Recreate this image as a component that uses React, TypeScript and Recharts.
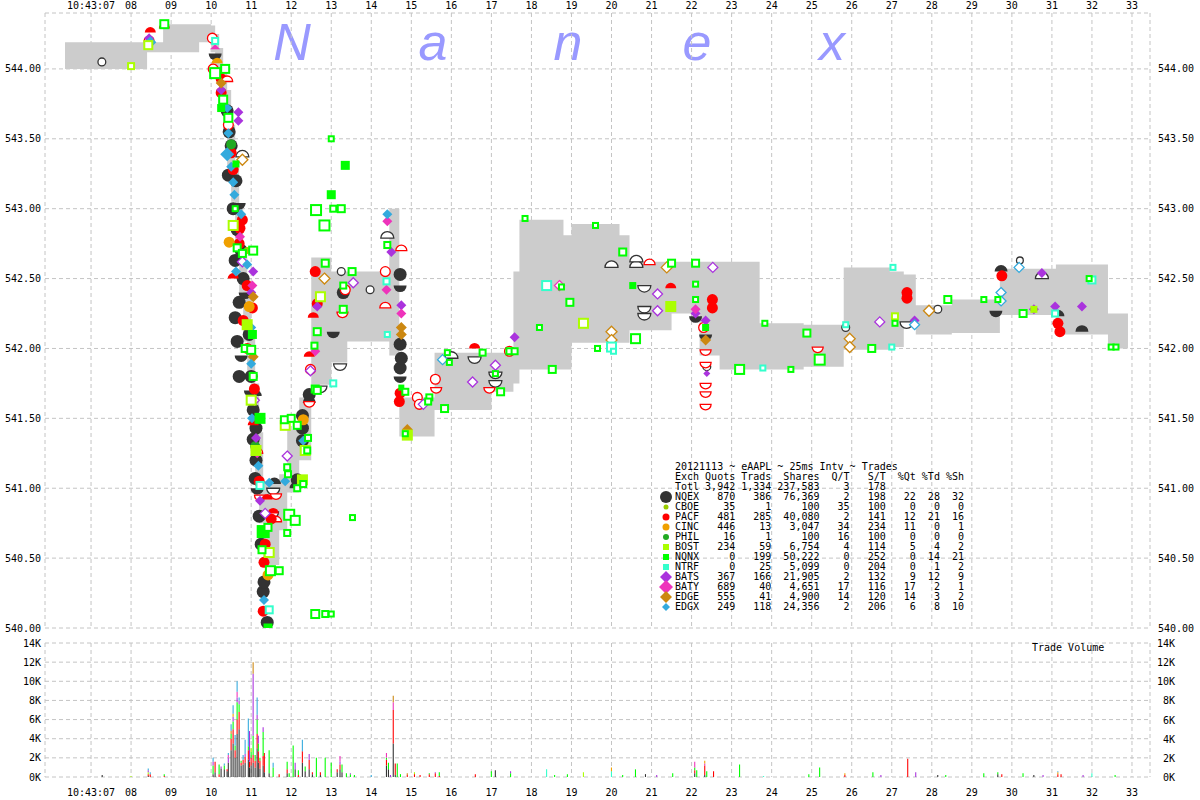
import React from "react";
import {
  ComposedChart,
  Area,
  Scatter,
  Bar,
  XAxis,
  YAxis,
  CartesianGrid,
} from "recharts";

const MONO = '"DejaVu Sans Mono", monospace';
const GRID = "#c4c4c4";

// seconds after 10:43:00
const secTicks = [7, 8, 9, 10, 11, 12, 13, 14, 15, 16, 17, 18, 19, 20, 21, 22, 23, 24, 25, 26, 27, 28, 29, 30, 31, 32, 33];
const priceTicks = [540, 540.5, 541, 541.5, 542, 542.5, 543, 543.5, 544];
const volTicks = [0, 2000, 4000, 6000, 8000, 10000, 12000, 14000];
const xDomain = [5.85, 33.45];

// gray bid/ask band, step after
const bandT = [6.35, 8.4, 8.8, 9.7, 10.0, 10.1, 10.2, 10.3, 10.4, 10.5, 10.6, 10.7, 10.8, 10.9, 11.0, 11.1, 11.2, 11.3, 11.7, 11.9, 12.2, 12.5, 13.0, 13.4, 14.45, 14.7, 15.58, 17.0, 17.55, 17.7, 18.8, 19.0, 20.2, 20.45, 21.5, 22.2, 22.7, 23.7, 24.8, 25.8, 26.95, 27.3, 27.6, 28.5, 29.7, 31.1, 32.4, 32.9];
const bandLo = [544.0, 544.12, 544.12, 544.19, 544.12, 543.95, 543.75, 543.55, 543.3, 543.05, 542.75, 542.4, 542.05, 541.8, 541.45, 541.1, 540.75, 540.45, 540.7, 540.97, 541.2, 541.74, 541.9, 542.05, 541.95, 541.37, 541.56, 541.69, 541.75, 541.85, 541.85, 542.04, 542.04, 542.13, 542.25, 541.95, 541.85, 541.85, 541.87, 541.99, 542.01, 542.18, 542.1, 542.11, 542.24, 542.1, 542.0, 542.0];
const bandHi = [544.19, 544.19, 544.32, 544.32, 544.31, 544.25, 544.15, 544.0, 543.85, 543.6, 543.3, 543.0, 542.7, 542.4, 542.1, 541.75, 541.4, 541.05, 541.1, 541.42, 541.65, 542.65, 542.55, 542.55, 543.0, 541.65, 541.97, 541.97, 542.55, 542.92, 542.81, 542.89, 542.81, 542.62, 542.62, 542.62, 542.62, 542.18, 542.17, 542.58, 542.55, 542.53, 542.31, 542.35, 542.57, 542.6, 542.25, 542.25];

// [time, price, style, size?]  f=trade h=hollow u/U=bid half d/D=ask half
const nqexPts = [
  [7.27, 544.05, "h", 9], [10.1, 544.11, "d"], [10.4, 543.7, "f"], [10.43, 543.24, "f"], [10.62, 543.2, "f"],
  [10.7, 543.04, "d"], [10.78, 543.37, "U"], [10.6, 542.63, "f"], [10.7, 542.33, "f"], [10.6, 542.22, "f"],
  [10.65, 542.05, "f"], [10.75, 541.95, "d"], [10.7, 541.8, "f"], [11.05, 541.56, "f"], [11.1, 541.66, "u"],
  [11.12, 541.43, "f"], [11.1, 541.07, "f"], [11.3, 540.26, "f"], [11.32, 540.33, "f"], [11.4, 540.04, "f"],
  [10.45, 543.55, "f"], [10.5, 543.45, "f"], [10.55, 543.0, "f"], [10.65, 542.85, "f"], [10.75, 542.7, "f"],
  [10.8, 542.5, "f"], [10.85, 542.4, "d"], [10.95, 542.1, "f"], [11.0, 541.8, "f"], [10.98, 541.7, "d"],
  [11.05, 541.35, "f"], [11.12, 541.2, "f"], [11.15, 541.0, "d"], [11.2, 540.8, "f"], [11.25, 540.6, "f"],
  [11.58, 541.03, "u"], [11.52, 540.83, "D"], [11.55, 541.0, "D"], [12.12, 541.0, "u"], [12.15, 541.06, "f"],
  [12.28, 541.43, "f"], [12.28, 541.34, "f"], [12.45, 541.61, "u"], [12.45, 541.67, "f"], [12.28, 541.52, "f"],
  [12.73, 541.73, "D"], [13.22, 541.89, "D"], [13.3, 542.4, "f"], [13.25, 542.55, "h", 9], [13.05, 542.12, "d"],
  [13.97, 542.42, "h", 9], [14.4, 542.79, "U"], [14.72, 542.53, "f"], [14.72, 542.45, "d"], [14.72, 542.03, "f"],
  [14.72, 541.86, "f"], [14.72, 541.8, "d"], [14.75, 541.93, "f"], [16.0, 541.93, "U"], [16.58, 541.94, "D"],
  [17.1, 541.77, "D"], [17.1, 541.83, "D"], [20.0, 542.58, "U"], [20.62, 542.58, "U"], [20.62, 542.62, "U"],
  [20.82, 542.45, "D"], [20.82, 542.3, "D"], [20.82, 542.25, "D"], [22.1, 542.23, "d"], [22.35, 542.1, "d"],
  [22.38, 541.87, "h", 9], [25.85, 542.15, "h", 9], [27.37, 542.19, "D"], [28.15, 542.28, "h", 9],
  [29.6, 542.27, "d"], [29.73, 542.55, "u"], [30.75, 542.5, "U"], [31.15, 542.23, "u"], [31.75, 542.12, "u"],
  [30.2, 542.63, "h", 8],
];
const pacfPts = [
  [8.48, 544.26, "u"], [8.45, 544.2, "h"], [8.83, 544.29, "u"], [10.03, 544.22, "h"], [10.05, 544.0, "h"],
  [10.25, 543.93, "f"], [10.4, 543.91, "U"], [10.25, 543.83, "f"], [10.43, 543.6, "h"], [10.55, 543.28, "f"],
  [10.78, 542.92, "f"], [10.72, 542.86, "f"], [10.8, 542.2, "f"], [11.03, 542.29, "f"], [10.9, 542.45, "f"],
  [10.5, 543.4, "f"], [10.7, 542.75, "f"], [10.9, 542.0, "f"], [11.05, 541.45, "u"], [11.2, 541.05, "f"],
  [10.55, 542.5, "u"], [11.08, 541.71, "f"], [11.15, 541.25, "U"], [11.22, 540.95, "D"], [11.4, 540.92, "u"],
  [11.62, 540.96, "D"], [11.62, 540.76, "U"], [11.5, 540.78, "f"], [11.32, 540.47, "f"], [11.3, 540.12, "f"],
  [11.35, 540.6, "f"], [11.55, 540.82, "u"], [12.45, 541.62, "D"], [12.48, 541.85, "h"], [12.45, 541.94, "u"],
  [12.6, 542.55, "f"], [12.65, 542.32, "f"], [12.55, 542.22, "u"], [13.28, 542.26, "D"], [13.35, 542.42, "h"],
  [14.35, 542.55, "h"], [14.35, 542.29, "U"], [14.75, 542.7, "U"], [14.7, 541.62, "f"], [14.72, 541.68, "f"],
  [15.15, 541.65, "h"], [15.2, 541.6, "h"], [15.6, 541.78, "h"], [15.62, 541.72, "D"], [16.58, 542.0, "u"],
  [16.95, 541.72, "D"], [17.45, 541.98, "h"], [20.95, 542.6, "U"], [21.48, 542.43, "u"], [22.52, 542.35, "f"],
  [22.52, 542.29, "f"], [22.3, 542.15, "h"], [22.35, 541.99, "D"], [22.35, 541.9, "D"], [22.35, 541.75, "D"],
  [22.35, 541.69, "D"], [22.35, 541.6, "D"], [25.15, 542.01, "D"], [27.38, 542.4, "f"], [27.38, 542.36, "f"],
  [29.75, 542.52, "f"], [31.15, 542.18, "f"], [31.2, 542.12, "f"],
];
const cincPts = [[10.15, 544.04, "u"], [10.45, 542.76, "f"], [10.95, 542.3, "f"], [12.3, 541.49, "f"], [11.42, 540.38, "f"]];
const cboePts = [[10.9, 542.7, "f"]];
const philPts = [[10.5, 543.46, "f"], [11.1, 541.3, "f"]];
const bostPts = [
  [8.0, 544.02, "h", 8], [8.43, 544.17, "h", 10], [10.55, 542.88, "h"], [10.9, 542.17, "f"], [11.0, 541.63, "h"],
  [11.12, 541.27, "f"], [11.45, 540.54, "h"], [11.85, 541.45, "h"], [12.35, 541.27, "h"], [12.28, 541.06, "f"],
  [12.73, 542.37, "h"], [14.9, 541.38, "f"], [19.3, 542.18, "h"], [21.48, 542.3, "f"], [27.08, 542.23, "h", 8],
  [30.55, 542.28, "f", 7],
];
const nqnxPts = [
  [8.83, 544.32, "h", 10], [10.1, 543.97, "h", 12], [10.35, 544.0, "h", 10], [10.3, 543.78, "h", 10], [10.25, 543.72, "f", 8],
  [10.43, 543.65, "h", 10], [10.62, 543.32, "f", 7], [10.6, 543.0, "h", 7], [10.65, 542.72, "h", 9], [10.78, 542.68, "h", 9],
  [11.05, 542.7, "h", 10], [11.03, 542.1, "f", 9], [10.85, 542.0, "h", 9], [11.0, 541.99, "h", 10], [11.05, 541.8, "h", 9],
  [11.22, 541.5, "f", 11], [11.3, 540.69, "f", 13], [11.42, 540.72, "h", 9], [11.27, 540.56, "h", 9], [11.48, 540.41, "h", 11],
  [11.7, 540.41, "h", 9], [11.42, 540.0, "f", 9], [11.83, 541.49, "h", 9], [12.0, 541.5, "h", 9], [12.15, 541.45, "h", 9],
  [11.9, 541.15, "h", 8], [11.92, 541.1, "h", 8], [11.95, 540.81, "h", 12], [12.1, 540.77, "h", 11], [11.9, 540.68, "h", 8],
  [12.15, 541.0, "h", 8], [12.3, 541.03, "h", 8], [12.4, 541.27, "h", 8], [12.42, 541.36, "h", 8], [12.6, 541.71, "h", 9],
  [12.65, 541.7, "h", 9], [12.58, 542.02, "h", 8], [12.65, 542.12, "h", 9], [12.85, 542.61, "h", 9], [12.62, 542.99, "h", 12],
  [12.83, 542.88, "h", 12], [13.25, 543.0, "h", 9], [13.05, 543.0, "h", 8], [13.0, 543.1, "f", 9], [13.35, 543.31, "f", 9],
  [13.0, 543.5, "h", 7], [13.52, 542.55, "h", 9], [13.3, 542.28, "h", 9], [13.3, 542.45, "h", 8], [12.6, 540.1, "h", 10],
  [12.85, 540.1, "h", 8], [13.0, 540.1, "h", 7], [13.53, 540.79, "h", 7], [14.4, 542.74, "h", 8], [14.75, 541.72, "f", 6],
  [14.85, 541.69, "h", 8], [14.85, 541.39, "h", 7], [15.45, 541.65, "h", 8], [15.42, 541.62, "h", 8], [15.83, 541.57, "h", 9],
  [15.9, 541.97, "h", 7], [15.95, 541.9, "h", 7], [16.78, 541.97, "h", 8], [17.1, 541.82, "h", 7], [17.23, 541.69, "h", 9],
  [17.45, 541.98, "h", 8], [17.58, 541.98, "h", 8], [17.84, 542.93, "h", 7], [18.2, 542.15, "h", 7], [18.52, 541.85, "h", 9],
  [18.75, 542.44, "h", 7], [18.96, 542.33, "h", 9], [19.6, 542.88, "h", 7], [19.65, 542.0, "h", 7], [20.28, 542.69, "h", 9],
  [20.53, 542.45, "f", 7], [20.6, 542.07, "h", 11], [21.5, 542.61, "h", 9], [22.1, 542.61, "h", 9], [22.1, 542.46, "h", 7],
  [22.1, 542.35, "h", 7], [22.35, 542.15, "f", 7], [23.2, 541.85, "h", 11], [23.83, 542.18, "h", 7], [24.48, 541.85, "h", 7],
  [24.88, 542.11, "h", 9], [25.2, 541.92, "h", 12], [26.5, 542.0, "h", 9], [27.08, 542.18, "h", 7], [28.4, 542.35, "h", 9],
  [29.3, 542.35, "h", 7], [29.65, 542.35, "h", 7], [30.28, 542.25, "h", 9], [31.93, 542.5, "h", 7], [32.48, 542.01, "h", 7],
  [32.6, 542.01, "h", 7],
];
const ntrfPts = [
  [10.1, 544.2, "h", 8], [11.22, 541.02, "h", 9], [11.45, 540.13, "h", 9], [13.05, 541.75, "h", 8], [14.38, 542.48, "h", 8],
  [14.4, 542.1, "h", 7], [18.38, 542.45, "h", 11], [20.0, 542.01, "h", 11], [20.05, 541.98, "h", 7], [23.78, 541.86, "h", 7],
  [25.85, 542.17, "h", 7], [27.0, 542.01, "h", 7], [27.03, 542.58, "h", 7], [31.08, 542.25, "h", 8], [32.0, 542.49, "h", 9],
];
const batsPts = [
  [8.45, 544.22, "f"], [10.25, 543.85, "f"], [10.68, 543.69, "f"], [10.68, 543.63, "f"], [11.05, 542.55, "f"],
  [10.78, 542.62, "h"], [11.0, 542.4, "f"], [11.08, 541.63, "h"], [11.12, 541.36, "f"], [11.22, 540.91, "f"],
  [11.35, 540.82, "h"], [11.9, 541.23, "h"], [12.48, 541.84, "h"], [12.65, 542.3, "f"], [13.55, 542.47, "h"],
  [14.5, 542.69, "f"], [14.75, 542.31, "f"], [15.3, 541.6, "h"], [16.53, 541.76, "h"], [17.1, 541.88, "h"],
  [17.58, 542.08, "f"], [21.15, 542.39, "h"], [21.15, 542.27, "h"], [22.53, 542.58, "h"], [22.1, 542.25, "f"],
  [22.35, 542.2, "f"], [22.38, 541.82, "f", 7], [26.7, 542.19, "h"], [27.57, 542.2, "f"], [30.55, 542.28, "f"],
  [30.75, 542.54, "f"], [31.08, 542.3, "f"], [31.75, 542.3, "f"],
];
const batyPts = [
  [10.1, 544.14, "u"], [10.72, 542.8, "f"], [11.03, 542.45, "f"], [11.15, 541.25, "f"], [12.6, 541.98, "f"],
  [14.4, 542.91, "f"], [14.38, 542.42, "f"], [14.75, 542.25, "f"], [18.7, 542.45, "h"], [22.1, 542.28, "f"],
];
const edgePts = [
  [10.25, 543.9, "f"], [10.78, 543.35, "h"], [11.05, 542.37, "f"], [11.05, 541.94, "f"], [12.83, 542.5, "h"],
  [14.75, 542.15, "f"], [14.75, 542.1, "f"], [14.9, 541.42, "f"], [20.0, 542.12, "h"], [20.0, 542.06, "h"],
  [21.38, 542.58, "h"], [22.35, 542.06, "f"], [25.95, 542.07, "h"], [25.95, 542.01, "h"], [27.93, 542.27, "h"],
];
const edgxPts = [
  [8.48, 544.19, "f", 12], [10.4, 543.72, "f"], [10.43, 543.54, "f"], [10.4, 543.39, "f", 14], [10.55, 543.19, "f"],
  [10.58, 543.1, "f"], [10.75, 542.96, "f"], [10.62, 542.55, "f"], [11.0, 542.15, "f"], [11.0, 541.89, "f"],
  [11.02, 541.5, "f"], [11.18, 541.16, "f"], [11.45, 541.04, "f"], [11.85, 541.05, "f"], [12.3, 541.34, "f"],
  [10.5, 543.3, "f"], [10.9, 542.6, "f"],
  [11.32, 540.2, "f"], [14.4, 542.96, "f"], [15.78, 541.92, "h"], [27.57, 542.17, "h"], [29.73, 542.4, "h"],
  [29.73, 542.34, "h"], [30.18, 542.58, "h"],
];

// trade volume per 25ms bucket (shares)
const volBuckets: any[] = [
  { t: 7.28, nqex: 200 }, { t: 8.0, bost: 100 },
  { t: 8.43, nqex: 100, pacf: 200, bost: 200, bats: 200, edgx: 200 }, { t: 8.48, pacf: 300, edgx: 200 },
  { t: 8.83, pacf: 100, nqnx: 200 },
  { t: 10.05, nqex: 300, nqnx: 900, bats: 400, edgx: 400 }, { t: 10.1, nqex: 500, pacf: 1100 },
  { t: 10.2, pacf: 300, nqnx: 1000 }, { t: 10.25, nqex: 900, bats: 200 },
  { t: 10.33, nqex: 800, nqnx: 400, edgx: 200 }, { t: 10.4, nqex: 600, pacf: 200 },
  { t: 10.43, nqex: 1500, bats: 500, baty: 300, edgx: 200 },
  { t: 10.5, nqex: 2800, pacf: 1200, nqnx: 500, edge: 300, edgx: 700 },
  { t: 10.55, nqex: 3500, pacf: 1500, nqnx: 800, bats: 500, cinc: 300, edgx: 900 },
  { t: 10.6, nqex: 2000, pacf: 800, nqnx: 500, edgx: 1100 },
  { t: 10.65, nqex: 4500, pacf: 1500, nqnx: 1800, bats: 500, baty: 600, edgx: 1100 },
  { t: 10.7, nqex: 5000, pacf: 1800, nqnx: 800, bats: 400, edgx: 300 },
  { t: 10.75, nqex: 1200, pacf: 300, nqnx: 200 }, { t: 10.8, nqex: 1300, pacf: 500, edgx: 500 },
  { t: 10.85, nqex: 1500, pacf: 600, bats: 300, edgx: 1500 },
  { t: 10.93, nqex: 1800, pacf: 1000, nqnx: 400, edgx: 2900 }, { t: 10.96, nqex: 1000, pacf: 600, bats: 3200 },
  { t: 11.0, nqex: 1200, pacf: 800, nqnx: 600, bost: 400 },
  { t: 11.05, nqex: 1500, pacf: 800, nqnx: 2000, bats: 6500, edge: 1200 },
  { t: 11.1, nqex: 1000, pacf: 700, nqnx: 600 },
  { t: 11.15, nqex: 3000, pacf: 1500, nqnx: 1500, bats: 500, edgx: 1800 },
  { t: 11.18, nqex: 1500, pacf: 1200, nqnx: 800, bats: 800 }, { t: 11.22, nqex: 900, pacf: 800, nqnx: 300 },
  { t: 11.3, nqex: 1200, pacf: 1000, nqnx: 2500, bats: 500 }, { t: 11.33, nqex: 500, pacf: 2000 },
  { t: 11.45, nqex: 400, nqnx: 2400 }, { t: 11.55, nqnx: 1000, edgx: 500 }, { t: 11.7, pacf: 300 },
  { t: 11.9, nqex: 400, pacf: 400, nqnx: 800 }, { t: 11.95, nqnx: 400 }, { t: 12.05, nqnx: 3300 },
  { t: 12.1, nqex: 800, bats: 700 }, { t: 12.18, pacf: 200, nqnx: 500 },
  { t: 12.28, nqex: 1500, pacf: 1200, edgx: 1200 }, { t: 12.35, nqex: 600, nqnx: 500 },
  { t: 12.45, nqex: 800, pacf: 1000, bats: 600 }, { t: 12.53, nqex: 300, pacf: 200 }, { t: 12.63, nqnx: 2000 },
  { t: 12.73, nqex: 200, pacf: 300 }, { t: 12.85, nqnx: 2000 }, { t: 13.0, nqnx: 1500 },
  { t: 13.15, nqex: 500, pacf: 300 }, { t: 13.22, nqex: 800, pacf: 500, bats: 300, baty: 600 },
  { t: 13.27, nqex: 500, nqnx: 800 }, { t: 13.38, nqnx: 400 }, { t: 13.48, nqnx: 300, bats: 100 },
  { t: 13.58, nqnx: 200 }, { t: 14.0, edgx: 200 },
  { t: 14.38, nqex: 1200, pacf: 600, nqnx: 200, baty: 500 }, { t: 14.43, nqex: 800, nqnx: 700 },
  { t: 14.48, bats: 200 }, { t: 14.55, nqex: 3500, pacf: 3500, baty: 800, edge: 700 },
  { t: 14.6, nqex: 200, pacf: 1200 }, { t: 14.65, nqnx: 1400 }, { t: 14.73, nqnx: 300 },
  { t: 14.9, pacf: 200, edge: 200 }, { t: 15.08, pacf: 300, bost: 200 }, { t: 15.22, pacf: 200 },
  { t: 15.45, pacf: 300, nqnx: 100 }, { t: 15.6, pacf: 400, bats: 100 }, { t: 15.7, pacf: 100, nqnx: 400 },
  { t: 16.6, pacf: 300 }, { t: 17.0, nqnx: 600 }, { t: 17.1, nqex: 700 }, { t: 17.48, nqnx: 400, bats: 200 },
  { t: 18.38, ntrf: 800 }, { t: 18.58, nqnx: 200 }, { t: 18.9, nqnx: 300 }, { t: 19.3, bost: 500 },
  { t: 20.0, ntrf: 600, cinc: 400 }, { t: 20.28, nqnx: 200 }, { t: 20.6, nqnx: 800 }, { t: 20.85, nqex: 300 },
  { t: 21.13, bats: 200 }, { t: 21.53, nqnx: 400 },
  { t: 22.08, nqex: 400, pacf: 300, nqnx: 300, baty: 600 }, { t: 22.13, nqnx: 700 },
  { t: 22.33, nqex: 200, pacf: 1000, baty: 200, cinc: 300 }, { t: 22.38, nqnx: 600 }, { t: 22.55, pacf: 600 },
  { t: 23.2, nqnx: 1300 }, { t: 23.8, ntrf: 100 }, { t: 24.93, nqnx: 300 }, { t: 25.2, nqnx: 1000 },
  { t: 25.83, pacf: 200, cinc: 200 }, { t: 26.53, nqnx: 500 }, { t: 26.73, bats: 200 }, { t: 27.4, pacf: 1900 },
  { t: 27.6, bats: 500 }, { t: 28.15, nqex: 200 }, { t: 28.35, nqnx: 200 }, { t: 29.3, nqnx: 400 },
  { t: 29.65, nqex: 300, nqnx: 200 }, { t: 29.75, pacf: 300 }, { t: 30.28, nqnx: 400 }, { t: 30.55, nqex: 200 },
  { t: 30.78, bats: 200 }, { t: 31.15, pacf: 300, cinc: 200, edgx: 100 }, { t: 31.23, pacf: 300 },
  { t: 31.78, bats: 200 }, { t: 32.0, ntrf: 400 }, { t: 32.58, nqnx: 200 },
];

// legend table: name, quotes, trades, shares, Q/T, S/T, %Qt, %Td, %Sh
const legendRows: any[] = [
  ["NQEX", 870, 386, 76369, 2, 198, 22, 28, 32],
  ["CBOE", 35, 1, 100, 35, 100, 0, 0, 0],
  ["PACF", 481, 285, 40080, 2, 141, 12, 21, 16],
  ["CINC", 446, 13, 3047, 34, 234, 11, 0, 1],
  ["PHIL", 16, 1, 100, 16, 100, 0, 0, 0],
  ["BOST", 234, 59, 6754, 4, 114, 5, 4, 2],
  ["NQNX", 0, 199, 50222, 0, 252, 0, 14, 21],
  ["NTRF", 0, 25, 5099, 0, 204, 0, 1, 2],
  ["BATS", 367, 166, 21905, 2, 132, 9, 12, 9],
  ["BATY", 689, 40, 4651, 17, 116, 17, 2, 1],
  ["EDGE", 555, 41, 4900, 14, 120, 14, 3, 2],
  ["EDGX", 249, 118, 24356, 2, 206, 6, 8, 10],
];
const totals = [3942, 1334, 237583, 3, 178];

const exchanges = [
  { key: "NQEX", vol: "nqex", shape: "circle", color: "#333333", size: 13, icon: 12, pts: nqexPts },
  { key: "CBOE", vol: "cboe", shape: "circle", color: "#99cc00", size: 7, icon: 5, pts: cboePts },
  { key: "PACF", vol: "pacf", shape: "circle", color: "#ff0000", size: 11, icon: 7, pts: pacfPts },
  { key: "CINC", vol: "cinc", shape: "circle", color: "#f0a000", size: 11, icon: 7, pts: cincPts },
  { key: "PHIL", vol: "phil", shape: "circle", color: "#22aa22", size: 10, icon: 6, pts: philPts },
  { key: "BOST", vol: "bost", shape: "square", color: "#aaff00", size: 11, icon: 6, pts: bostPts },
  { key: "NQNX", vol: "nqnx", shape: "square", color: "#00ff00", size: 12, icon: 6, pts: nqnxPts },
  { key: "NTRF", vol: "ntrf", shape: "square", color: "#33ffcc", size: 11, icon: 6, pts: ntrfPts },
  { key: "BATS", vol: "bats", shape: "diamond", color: "#aa33dd", size: 10, icon: 12, pts: batsPts },
  { key: "BATY", vol: "baty", shape: "diamond", color: "#ee33bb", size: 10, icon: 14, pts: batyPts },
  { key: "EDGE", vol: "edge", shape: "diamond", color: "#cc8811", size: 11, icon: 12, pts: edgePts },
  { key: "EDGX", vol: "edgx", shape: "diamond", color: "#33aadd", size: 10, icon: 8, pts: edgxPts },
];
const drawOrder = ["NQEX", "PACF", "CINC", "CBOE", "PHIL", "BATS", "BATY", "EDGE", "EDGX", "BOST", "NTRF", "NQNX"];
const volStack = ["nqex", "pacf", "nqnx", "bost", "ntrf", "bats", "baty", "edge", "cinc", "edgx"];

const bandRows = bandT.map((t, i) => ({ t, range: [bandLo[i], bandHi[i]] }));
const volRows = volBuckets.map((r) => {
  const row: any = { t: r.t };
  volStack.forEach((k) => (row[k] = r[k] ?? 0));
  return row;
});

function Mark({ cx, cy, shape, color, s, size }: any) {
  const r = size / 2;
  const solid = s === "f" || s === "u" || s === "d";
  const fill = solid ? color : "#ffffff";
  const sw = shape === "square" ? 2 : 1.3;
  const stroke = solid ? "none" : color;
  const half = s === "u" || s === "U" ? "top" : s === "d" || s === "D" ? "bottom" : null;
  if (shape === "circle") {
    if (!half) return <circle cx={cx} cy={cy} r={solid ? r : r - 0.6} fill={fill} stroke={stroke} strokeWidth={sw} />;
    const sweep = half === "top" ? 1 : 0;
    return <path d={`M${cx - r},${cy}A${r},${r} 0 0 ${sweep} ${cx + r},${cy}Z`} fill={fill} stroke={stroke} strokeWidth={sw} />;
  }
  if (shape === "square") {
    const a = solid ? r : r - 1;
    return <rect x={cx - a} y={cy - a} width={a * 2} height={a * 2} fill={fill} stroke={stroke} strokeWidth={sw} />;
  }
  let pts = `${cx},${cy - r} ${cx + r},${cy} ${cx},${cy + r} ${cx - r},${cy}`;
  if (half === "top") pts = `${cx - r},${cy} ${cx},${cy - r} ${cx + r},${cy}`;
  if (half === "bottom") pts = `${cx - r},${cy} ${cx},${cy + r} ${cx + r},${cy}`;
  return <polygon points={pts} fill={fill} stroke={stroke} strokeWidth={sw} />;
}

const fmt = (v: number) => v.toLocaleString("en-US");
const pad = (v: any, w: number) => String(v).padStart(w, " ");
const rowText = (name: string, v: number[]) =>
  name + pad(fmt(v[0]), 6) + pad(fmt(v[1]), 6) + pad(fmt(v[2]), 8) + pad(v[3], 5) + pad(v[4], 6) +
  (v.length > 5 ? pad(v[5], 5) + pad(v[6], 4) + pad(v[7], 4) : "");

const tickStyle = { fill: "#000", fontSize: 10, fontFamily: MONO };
const secLabel = (v: number) => (v === 7 ? "10:43:07" : String(v).padStart(2, "0"));

const rightVolTick = ({ x, y, payload }: any) => (
  <text x={x + 25} y={y} dy={4} textAnchor="end" fill="#000" fontSize={10} fontFamily={MONO}>
    {`${payload.value / 1000}K`}
  </text>
);

export default function App() {
  const legendLines = [
    "20121113 ~ eAAPL ~ 25ms Intv ~ Trades",
    "Exch Quots Trads  Shares  Q/T   S/T  %Qt %Td %Sh",
    rowText("Totl", totals),
    ...legendRows.map((r) => rowText(r[0], r.slice(1))),
  ];
  const watermark = [["N", 292], ["a", 433], ["n", 568], ["e", 697], ["x", 832]];
  return (
    <div style={{ position: "relative", width: 1200, height: 800, background: "#fff", overflow: "hidden" }}>
      <style>{"body{margin:0}"}</style>
      <svg width={1200} height={80} style={{ position: "absolute", left: 0, top: 0 }}>
        {watermark.map(([ch, x]) => (
          <text key={ch as string} x={x as number} y={60} textAnchor="middle" fill="#9999ff"
            style={{ fontFamily: '"Liberation Sans", sans-serif', fontStyle: "italic", fontSize: 52 }}>
            {ch}
          </text>
        ))}
      </svg>
      <div style={{ position: "absolute", left: 0, top: 0 }}>
        <ComposedChart width={1200} height={636} margin={{ top: 0, right: 0, bottom: 8, left: 0 }}>
          <CartesianGrid stroke={GRID} strokeDasharray="4 3" />
          <XAxis type="number" dataKey="t" orientation="top" domain={xDomain} ticks={secTicks} interval={0}
            allowDataOverflow tickFormatter={secLabel} height={13} axisLine={false} tickLine={false}
            tickSize={0} tickMargin={4} tick={tickStyle} />
          <YAxis type="number" dataKey="p" domain={[540, 544.4]} ticks={priceTicks} interval={0} allowDataOverflow
            tickFormatter={(v: number) => v.toFixed(2)} width={45} axisLine={false} tickLine={false}
            tickSize={0} tickMargin={4} tick={tickStyle} />
          <YAxis yAxisId="r" orientation="right" type="number" domain={[540, 544.4]} ticks={priceTicks} interval={0}
            allowDataOverflow tickFormatter={(v: number) => v.toFixed(2)} width={50} axisLine={false}
            tickLine={false} tickSize={0} tickMargin={8} tick={tickStyle} />
          <Area data={bandRows} dataKey="range" type="stepAfter" fill="#cccccc" fillOpacity={1} stroke="none"
            isAnimationActive={false} />
          {drawOrder.map((k) => {
            const ex = exchanges.find((e) => e.key === k)!;
            const data = ex.pts.map((q: any) => ({ t: q[0], p: q[1], s: q[2], z: q[3] }));
            return (
              <Scatter key={k} name={k} data={data} dataKey="p" isAnimationActive={false}
                shape={(pr: any) => (
                  <Mark cx={pr.cx} cy={pr.cy} shape={ex.shape} color={ex.color} s={pr.payload.s}
                    size={pr.payload.z ?? ex.size} />
                )} />
            );
          })}
        </ComposedChart>
      </div>
      <div style={{ position: "absolute", left: 0, top: 636 }}>
        <ComposedChart width={1200} height={164} data={volRows} margin={{ top: 7, right: 0, bottom: 0, left: 0 }}>
          <CartesianGrid stroke={GRID} strokeDasharray="4 3" />
          <XAxis type="number" dataKey="t" domain={xDomain} ticks={secTicks} interval={0} allowDataOverflow
            tickFormatter={secLabel} height={23} axisLine={false} tickLine={false} tickSize={0}
            tickMargin={12} tick={tickStyle} />
          <YAxis type="number" domain={[0, 14000]} ticks={volTicks} interval={0} allowDataOverflow
            tickFormatter={(v: number) => `${v / 1000}K`} width={45} axisLine={false} tickLine={false}
            tickSize={0} tickMargin={4} tick={tickStyle} />
          <YAxis yAxisId="r" orientation="right" type="number" domain={[0, 14000]} ticks={volTicks} interval={0}
            allowDataOverflow width={50} axisLine={false} tickLine={false} tickSize={0} tickMargin={0}
            tick={rightVolTick} />
          {volStack.map((k) => {
            const ex = exchanges.find((e) => e.vol === k)!;
            return <Bar key={k} dataKey={k} stackId="v" fill={ex.color} barSize={2} isAnimationActive={false} />;
          })}
        </ComposedChart>
      </div>
      <svg width={1200} height={800} style={{ position: "absolute", left: 0, top: 0, pointerEvents: "none" }}>
        <text x={1032} y={651} style={{ fontFamily: MONO, fontSize: 10, whiteSpace: "pre" }}>Trade Volume</text>
        {legendLines.map((line, i) => (
          <text key={i} x={675} y={470 + i * 10} style={{ fontFamily: MONO, fontSize: 10, whiteSpace: "pre" }}>
            {line}
          </text>
        ))}
        {legendRows.map((r, i) => {
          const ex = exchanges.find((e) => e.key === r[0])!;
          return (
            <Mark key={r[0]} cx={666} cy={497 + i * 10} shape={ex.shape} color={ex.color} s="f" size={ex.icon} />
          );
        })}
      </svg>
    </div>
  );
}
